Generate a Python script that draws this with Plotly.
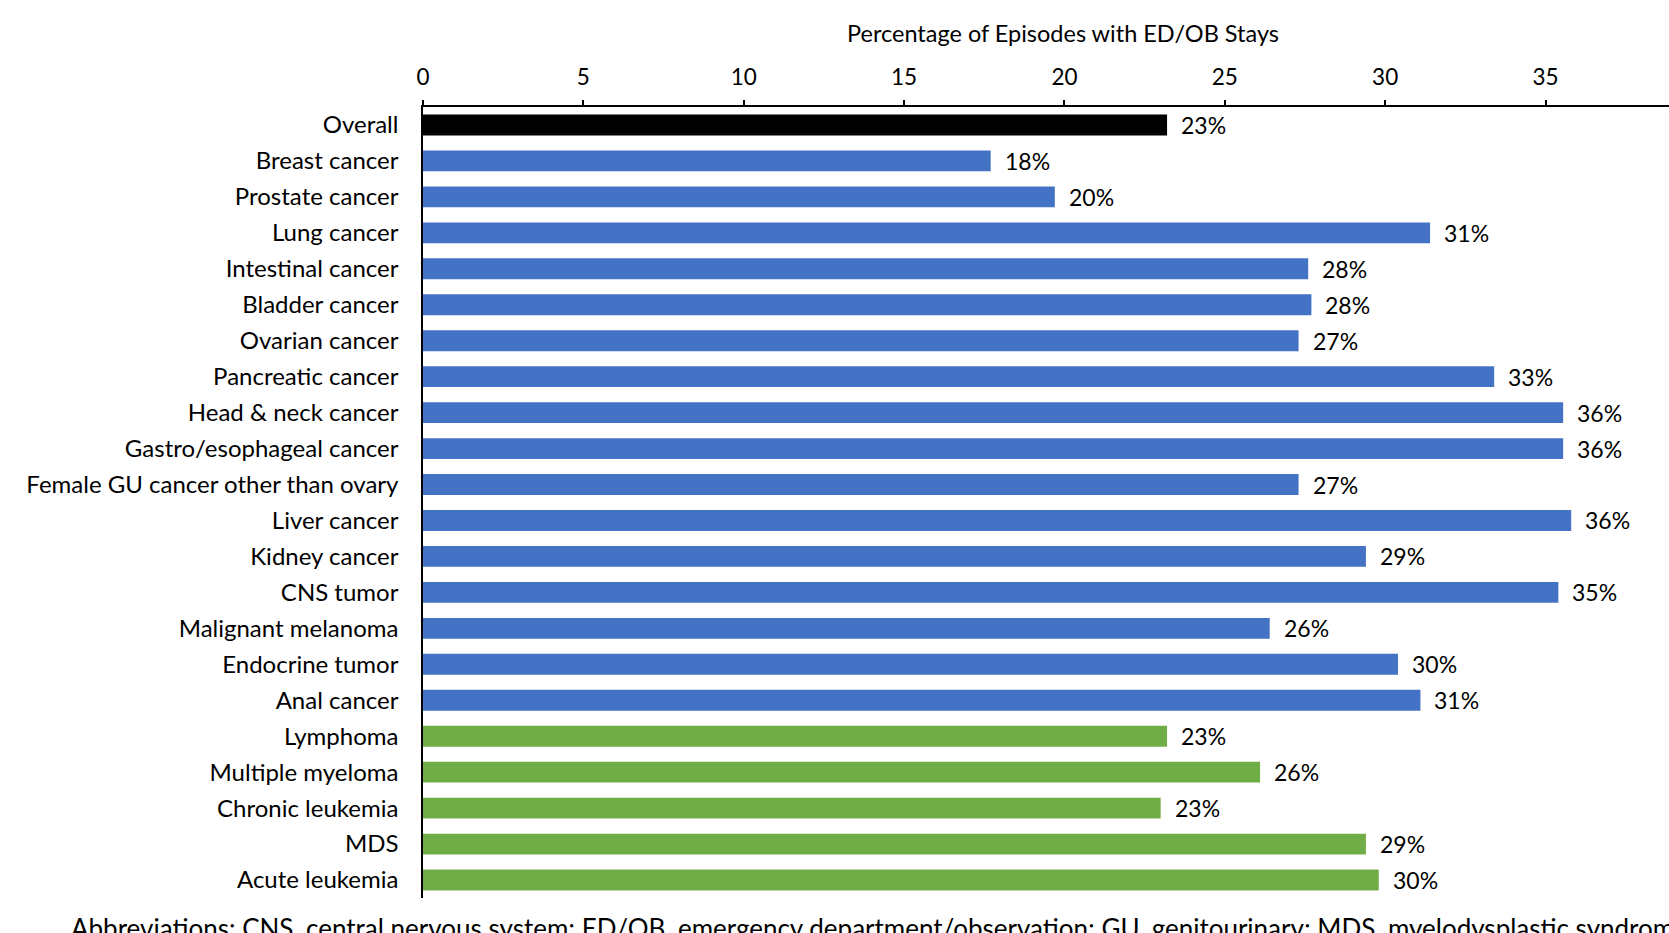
import plotly.graph_objects as go

# Episode categories, top to bottom
categories = [
    "Overall", "Breast cancer", "Prostate cancer", "Lung cancer", "Intestinal cancer",
    "Bladder cancer", "Ovarian cancer", "Pancreatic cancer", "Head & neck cancer",
    "Gastro/esophageal cancer", "Female GU cancer other than ovary", "Liver cancer",
    "Kidney cancer", "CNS tumor", "Malignant melanoma", "Endocrine tumor", "Anal cancer",
    "Lymphoma", "Multiple myeloma", "Chronic leukemia", "MDS", "Acute leukemia",
]

# Percentage of episodes with ED/OB stays
pct_ed_ob = [
    23.2, 17.7, 19.7, 31.4, 27.6,
    27.7, 27.3, 33.4, 35.55,
    35.55, 27.3, 35.8,
    29.4, 35.4, 26.4, 30.4, 31.1,
    23.2, 26.1, 23.0, 29.4, 29.8,
]

# Group of each row: overall, solid tumor, hematologic
groups = ["overall"] + ["solid"] * 16 + ["heme"] * 5

x_ticks = [0, 5, 10, 15, 20, 25, 30, 35]
axis_title = "Percentage of Episodes with ED/OB Stays"
footnote = ("Abbreviations: CNS, central nervous system; ED/OB, emergency department/observation; "
            "GU, genitourinary; MDS, myelodysplastic syndrome")

group_colors = {"overall": "#000000", "solid": "#4472C4", "heme": "#70AD47"}

FONT = "Lato"
W, H = 1669, 933
M_L, M_R, M_T, M_B = 423, 0, 107, 35
plot_w = W - M_L - M_R
plot_h = H - M_T - M_B

fig = go.Figure(
    go.Bar(
        x=pct_ed_ob,
        y=categories,
        orientation="h",
        marker=dict(color=[group_colors[g] for g in groups], line=dict(width=0)),
        width=0.58,
        hoverinfo="skip",
    )
)

# Percentage labels to the right of each bar
for cat, val in zip(categories, pct_ed_ob):
    fig.add_annotation(
        x=val, y=cat, xref="x", yref="y",
        text=f"{val:.0f}%", showarrow=False,
        xanchor="left", yanchor="middle", xshift=12,
        font=dict(family=FONT, size=23, color="#000000"),
    )

# Axis title above the top axis
fig.add_annotation(
    x=(1063 - M_L) / plot_w, y=1 + (M_T - 33) / plot_h,
    xref="paper", yref="paper", text=axis_title, showarrow=False,
    xanchor="center", yanchor="middle",
    font=dict(family=FONT, size=23.5, color="#000000"),
)

# Abbreviations footnote
fig.add_annotation(
    x=(69 - M_L) / plot_w, y=-(928 - (H - M_B)) / plot_h,
    xref="paper", yref="paper", text=footnote, showarrow=False,
    xanchor="left", yanchor="middle",
    font=dict(family=FONT, size=26, color="#000000"),
)

fig.update_layout(
    width=W, height=H,
    margin=dict(l=M_L, r=M_R, t=M_T, b=M_B, pad=0),
    paper_bgcolor="#FFFFFF", plot_bgcolor="#FFFFFF",
    showlegend=False,
    font=dict(family=FONT, size=23, color="#000000"),
    xaxis=dict(
        side="top", range=[0, 38.85],
        tickmode="array", tickvals=x_ticks, ticktext=[str(t) for t in x_ticks],
        ticks="outside", ticklen=5, tickwidth=1.5, tickcolor="#000000",
        showline=True, linecolor="#000000", linewidth=1.5,
        showgrid=False, zeroline=False, ticklabelstandoff=6,
        tickfont=dict(family=FONT, size=22.5),
    ),
    yaxis=dict(
        autorange="reversed", type="category",
        showline=True, linecolor="#000000", linewidth=1.5,
        ticks="", showgrid=False, zeroline=False, ticklabelstandoff=18,
        tickfont=dict(family=FONT, size=24),
    ),
)

fig.write_html("out.html")
